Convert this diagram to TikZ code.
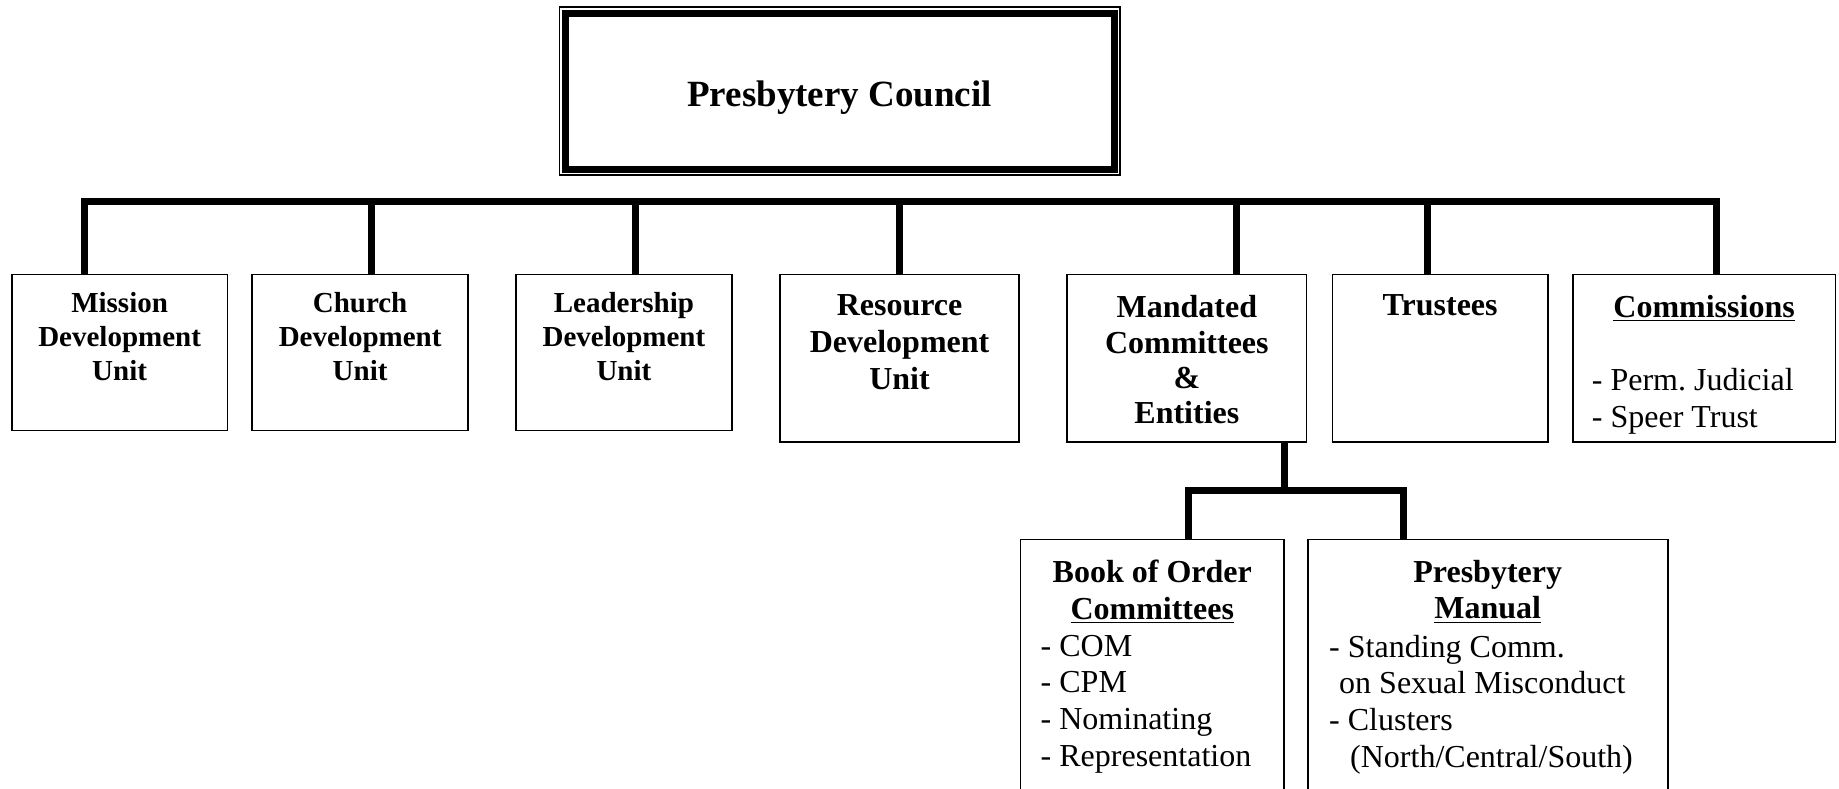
\documentclass[tikz,border=0pt]{standalone}
\usepackage{fontspec}
\setmainfont{Liberation Serif}
\usetikzlibrary{fit}
\frenchspacing
\begin{document}
\begin{tikzpicture}[x=0.5pt,y=-0.5pt,
  box/.style={draw,line width=0.8pt,inner sep=0pt,outer sep=0pt},
  conn/.style={line width=3.5pt},
  hdA/.style={inner sep=0pt,align=center,font=\fontsize{14.5}{17}\selectfont\bfseries},
  hdB/.style={inner sep=0pt,align=center,font=\fontsize{16}{18.4}\selectfont\bfseries},
  lst/.style={inner sep=0pt,align=left,font=\fontsize{16}{18.4}\selectfont},
]
\useasboundingbox (0,0) rectangle (1839,788);
\clip (0,0) rectangle (1839,788);

% council
\node[box,fit={(559.4,7) (1120,175)}] (councilouter) {};
\node[draw,line width=3.5pt,inner sep=0pt,outer sep=0pt,fit={(565,13) (1114,169)}] (council) {};
\node[font=\fontsize{18.5}{21}\selectfont\bfseries,inner sep=0pt] (counciltext) at ([yshift=-3.5pt]council.center) {Presbytery Council};

% first row boxes
\node[box,fit={(11.7,274.4) (227.5,430.4)}] (mission) {};
\node[box,fit={(252.2,274.4) (468,430.4)}] (church) {};
\node[box,fit={(516,274.4) (731.8,430.4)}] (leader) {};
\node[box,fit={(779.9,274.4) (1019.2,442.1)}] (resource) {};
\node[box,fit={(1067.2,274.4) (1306.5,442.1)}] (mandated) {};
\node[box,fit={(1332.3,274.4) (1548,442.1)}] (trustees) {};
\node[box,fit={(1572.7,274.4) (1835.4,442.1)}] (comm) {};

% second row boxes
\node[box,fit={(1020.3,539.5) (1284.2,800)}] (book) {};
\node[box,fit={(1307.7,539.5) (1667.7,800)}] (manual) {};

% texts
\node[hdA,anchor=north] (missiontext) at ([yshift=-9pt]mission.north) {Mission\\Development\\Unit};
\node[hdA,anchor=north] (churchtext) at ([yshift=-9pt]church.north) {Church\\Development\\Unit};
\node[hdA,anchor=north] (leadertext) at ([yshift=-9pt]leader.north) {Leadership\\Development\\Unit};
\node[hdB,anchor=north] (resourcetext) at ([yshift=-10pt]resource.north) {Resource\\Development\\Unit};
\node[hdB,anchor=north] (mandatedtext) at ([yshift=-10pt]mandated.north) {Mandated\\Committees\\[-1.2pt]\&\\[-1pt]Entities};
\node[hdB,anchor=north] (trusteestext) at ([yshift=-10pt]trustees.north) {Trustees};
\node[hdB,anchor=north] (commtext) at ([yshift=-10pt]comm.north) {\underline{Commissions}};
\node[lst,anchor=north west] (commlist) at (1591.5,368.3) {- Perm. Judicial\\- Speer Trust};

\node[hdB,anchor=north] (booktext) at ([yshift=-10pt]book.north) {Book of Order\\\underline{Committees}};
\node[lst,anchor=north west] (booklist) at (1040.3,634.5) {- COM\\- CPM\\- Nominating\\- Representation};
\node[hdB,anchor=north] (manualtext) at ([yshift=-10pt]manual.north) {Presbytery\\\underline{Manual}};
\node[lst,anchor=north west] (manuallist) at (1328.8,634.5) {- Standing Comm.\\\hspace*{5pt}on Sexual Misconduct\\- Clusters\\\hspace*{10.5pt}(North/Central/South)};

% main bus
\coordinate (b1) at (84.4,201.7);
\coordinate (b2) at (371.8,201.7);
\coordinate (b3) at (635.7,201.7);
\coordinate (b4) at (899.5,201.7);
\coordinate (b5) at (1236,201.7);
\coordinate (b6) at (1427,201.7);
\coordinate (b7) at (1716,201.7);
\draw[conn] (b1 |- mission.north) -- (b1) -- (b7) -- (b7 |- comm.north);
\draw[conn] (b2) -- (b2 |- church.north);
\draw[conn] (b3) -- (b3 |- leader.north);
\draw[conn] (b4) -- (b4 |- resource.north);
\draw[conn] (b5) -- (b5 |- mandated.north);
\draw[conn] (b6) -- (b6 |- trustees.north);

% sub bus
\coordinate (m0) at (1284.2,490.2);
\coordinate (mL) at (1188,490.2);
\coordinate (mR) at (1403.8,490.2);
\draw[conn] (m0 |- mandated.south) -- (m0);
\draw[conn] (mL |- book.north) -- (mL) -- (mR) -- (mR |- manual.north);
\end{tikzpicture}
\end{document}
